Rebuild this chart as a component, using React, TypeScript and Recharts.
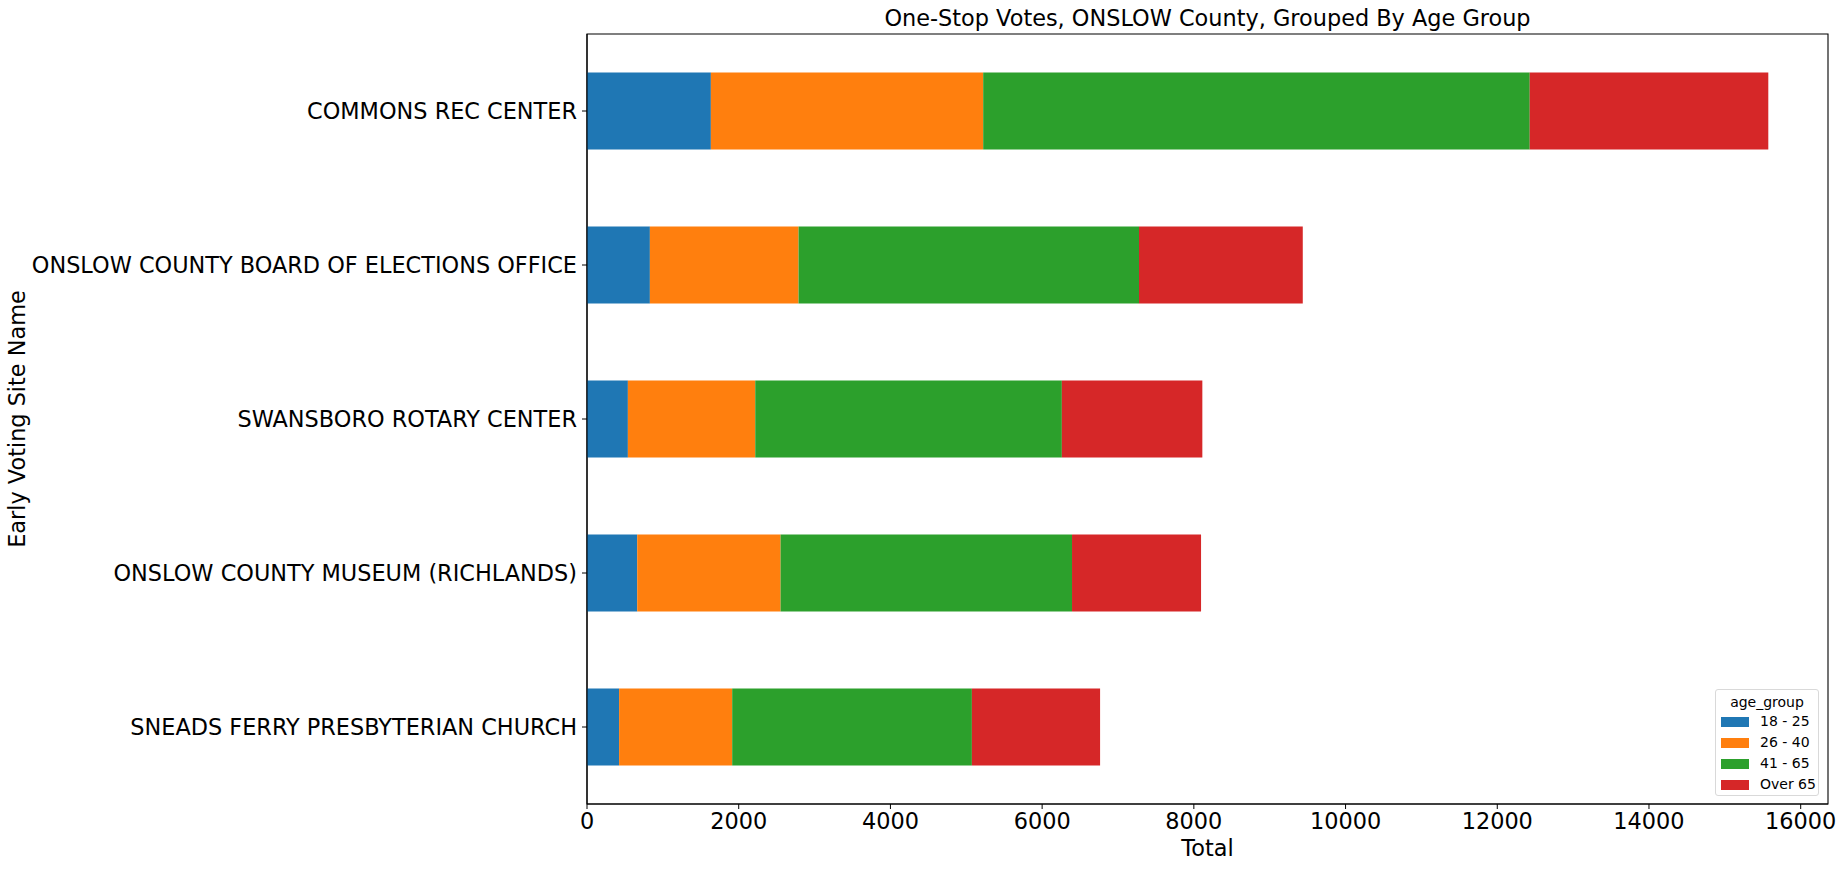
import React from "react";
import { BarChart, Bar, XAxis, YAxis, ReferenceArea } from "recharts";

// sites, top to bottom as in the original
const sites = [
  "COMMONS REC CENTER",
  "ONSLOW COUNTY BOARD OF ELECTIONS OFFICE",
  "SWANSBORO ROTARY CENTER",
  "ONSLOW COUNTY MUSEUM (RICHLANDS)",
  "SNEADS FERRY PRESBYTERIAN CHURCH",
];

const age18to25 = [1633, 829, 539, 662, 423];
const age26to40 = [3590, 1960, 1679, 1890, 1491];
const age41to65 = [7205, 4488, 4042, 3842, 3160];
const over65 = [3145, 2159, 1852, 1701, 1690];

const xTicks = [0, 2000, 4000, 6000, 8000, 10000, 12000, 14000, 16000];
const xMax = 16360;

const groups = [
  { key: "g1", name: "18 - 25", color: "#1f77b4" },
  { key: "g2", name: "26 - 40", color: "#ff7f0e" },
  { key: "g3", name: "41 - 65", color: "#2ca02c" },
  { key: "g4", name: "Over 65", color: "#d62728" },
];

const data = sites.map((site, i) => ({
  site,
  g1: age18to25[i],
  g2: age26to40[i],
  g3: age41to65[i],
  g4: over65[i],
}));

const font = "'DejaVu Sans', sans-serif";
const fs = 22.4;
const tickStyle = { fill: "#000", fontSize: fs, fontFamily: font };

const YLabel = ({ viewBox }: any) => {
  const x = 17;
  const y = viewBox.y + viewBox.height / 2;
  return (
    <text
      x={x}
      y={y}
      transform={`rotate(-90, ${x}, ${y})`}
      textAnchor="middle"
      dominantBaseline="central"
      fontSize={fs}
      fontFamily={font}
      fill="#000"
    >
      Early Voting Site Name
    </text>
  );
};

const XLabel = ({ viewBox }: any) => (
  <text
    x={viewBox.x + viewBox.width / 2}
    y={848}
    textAnchor="middle"
    dominantBaseline="central"
    fontSize={fs}
    fontFamily={font}
    fill="#000"
  >
    Total
  </text>
);

export default function App() {
  return (
    <div style={{ position: "absolute", left: 0, top: 0, width: 1844, height: 869 }}>
      <div
        style={{
          position: "absolute",
          left: 587,
          width: 1241,
          top: 5,
          textAlign: "center",
          fontFamily: font,
          fontSize: fs,
          lineHeight: "26px",
        }}
      >
        One-Stop Votes, ONSLOW County, Grouped By Age Group
      </div>
      <BarChart
        width={1844}
        height={869}
        data={data}
        layout="vertical"
        margin={{ top: 34, right: 16, bottom: 0, left: 0 }}
        barCategoryGap="25%"
      >
        <XAxis
          type="number"
          domain={[0, xMax]}
          ticks={xTicks}
          height={65}
          tick={tickStyle}
          tickSize={5}
          tickMargin={4}
          tickLine={{ stroke: "#000" }}
          axisLine={{ stroke: "#000", strokeWidth: 1.1 }}
          allowDataOverflow
          label={<XLabel />}
        />
        <YAxis
          type="category"
          dataKey="site"
          width={587}
          interval={0}
          tick={tickStyle}
          tickSize={5}
          tickMargin={5}
          tickLine={{ stroke: "#000" }}
          axisLine={{ stroke: "#000", strokeWidth: 1.1 }}
          label={<YLabel />}
        />
        {groups.map((g) => (
          <Bar
            key={g.key}
            dataKey={g.key}
            name={g.name}
            stackId="a"
            fill={g.color}
            isAnimationActive={false}
          />
        ))}
        {/* frame: top and right spines */}
        <ReferenceArea
          x1={0}
          x2={xMax}
          fill="none"
          fillOpacity={0}
          stroke="#000"
          strokeWidth={1.1}
          strokeOpacity={1}
        />
      </BarChart>
      <div
        style={{
          position: "absolute",
          left: 1715,
          top: 689,
          width: 104,
          height: 107,
          boxSizing: "border-box",
          border: "1px solid #d9d9d9",
          borderRadius: 3,
          background: "rgba(255,255,255,0.8)",
          fontFamily: font,
          fontSize: 14,
        }}
      >
        <div style={{ textAlign: "center", marginTop: 3, lineHeight: "18px" }}>age_group</div>
        {groups.map((g) => (
          <div key={g.key} style={{ display: "flex", alignItems: "center", height: 21, marginLeft: 5 }}>
            <span style={{ display: "inline-block", width: 28, height: 10, background: g.color }} />
            <span style={{ marginLeft: 11, lineHeight: "21px" }}>{g.name}</span>
          </div>
        ))}
      </div>
    </div>
  );
}
